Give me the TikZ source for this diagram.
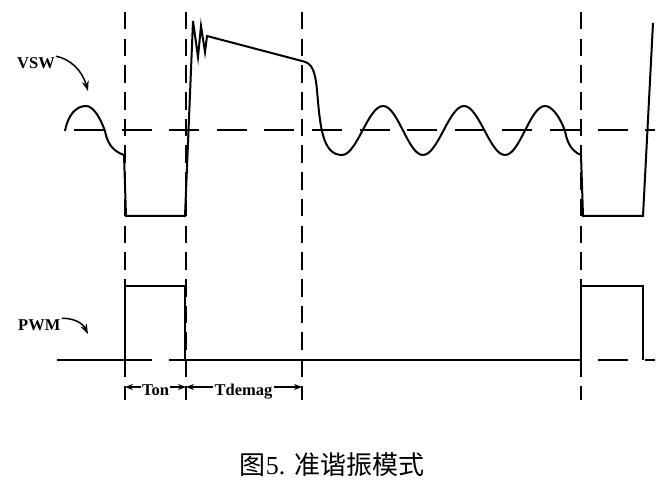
\documentclass[tikz,border=0pt]{standalone}
\usepackage{fontspec}
\setmainfont{Liberation Serif}
\newfontfamily\cjk{Noto Sans CJK SC}
\usetikzlibrary{arrows.meta}
\begin{document}
\begin{tikzpicture}[x=1pt,y=-1pt,
  wave/.style={line width=2pt, line join=miter},
  hdash/.style={line width=1.5pt, dash pattern=on 30pt off 17.6pt},
  vdash/.style={line width=1.2pt, dash pattern=on 17.5pt off 9.2pt},
  lbl/.style={font=\fontsize{16.5}{17}\selectfont\bfseries, inner sep=1pt},
  ptr/.style={line width=1.5pt, -{Stealth[length=10pt,width=7pt]}},
  dimarrow/.style={line width=1.3pt, -{Stealth[length=8pt,width=6pt]}}]
\useasboundingbox (0,0) rectangle (672,489);

% vertical dashed markers
\coordinate (atop) at (125,12); \coordinate (abot) at (125,400);
\coordinate (btop) at (186,12); \coordinate (bbot) at (186,400);
\coordinate (ctop) at (302,12); \coordinate (cbot) at (302,400);
\coordinate (dtop) at (581,12); \coordinate (dbot) at (581,400);
\draw[vdash] (atop) -- (abot);
\draw[vdash] (btop) -- (bbot);
\draw[vdash] (ctop) -- (cbot);
\draw[vdash] (dtop) -- (dbot);

% zero / reference lines
\draw[hdash] (74,130) coordinate (z1) -- (655,130) coordinate (z2);
\draw[hdash] (74,360) coordinate (p1) -- (655,360) coordinate (p2);

% VSW waveform
\draw[wave] (65,131) .. controls (68,115) and (76,106) .. (86,106)
 .. controls (93,106) and (100,117) .. (105,131)
 .. controls (107,142) and (112,151) .. (124,155)
 -- (126,216) -- (185,216) -- (193,21) -- (198,57) -- (201,26) -- (205,52) -- (207,36) -- (302,61)
 .. controls (312,63) and (315,70) .. (317,90)
 .. controls (320,125) and (322,155) .. (342,155)
 .. controls (357,155) and (368,106) .. (383,106)
 .. controls (398,106) and (408,155) .. (423,155)
 .. controls (438,155) and (449,106) .. (464,106)
 .. controls (479,106) and (490,155) .. (505,155)
 .. controls (520,155) and (530,106) .. (545,106)
 .. controls (552,106) and (560,117) .. (565,131)
 .. controls (567,142) and (571,151) .. (581,155)
 -- (583,216) -- (643,216) -- (653,23);

% PWM waveform
\draw[wave] (57,360) -- (125,360) -- (125,286) -- (185,286) -- (185,360)
 -- (581,360) -- (581,286) -- (643,286) -- (643,360);

% labels with pointers
\node[lbl, anchor=west] (vsw) at (16,63) {VSW};
\coordinate (vswtip) at (88,91);
\draw[ptr] (vsw.north east) .. controls (70,59) and (82,70) .. (vswtip);

\node[lbl, anchor=west] (pwm) at (17,325) {PWM};
\coordinate (pwmtip) at (88,334);
\draw[ptr] (pwm.north east) .. controls (72,318) and (82,322) .. (pwmtip);

% time spans
\node[lbl, anchor=base] (ton) at (155.5,395) {Ton};
\node[lbl, anchor=base] (tdm) at (243.5,395) {Tdemag};
\coordinate (tonL) at ([yshift=8pt]ton.base west);
\coordinate (tonR) at ([yshift=8pt]ton.base east);
\coordinate (tdL) at ([yshift=8pt]tdm.base west);
\coordinate (tdR) at ([yshift=8pt]tdm.base east);
\draw[dimarrow] (tonL) -- (tonL -| abot);
\draw[dimarrow] (tonR) -- (tonR -| bbot);
\draw[dimarrow] (tdL) -- (tdL -| bbot);
\draw[dimarrow] (tdR) -- (tdR -| cbot);

% caption
\node (cap) at (332,465) {\fontsize{26}{28}\selectfont{\cjk 图}5. {\cjk 准谐振模式}};
\end{tikzpicture}
\end{document}
